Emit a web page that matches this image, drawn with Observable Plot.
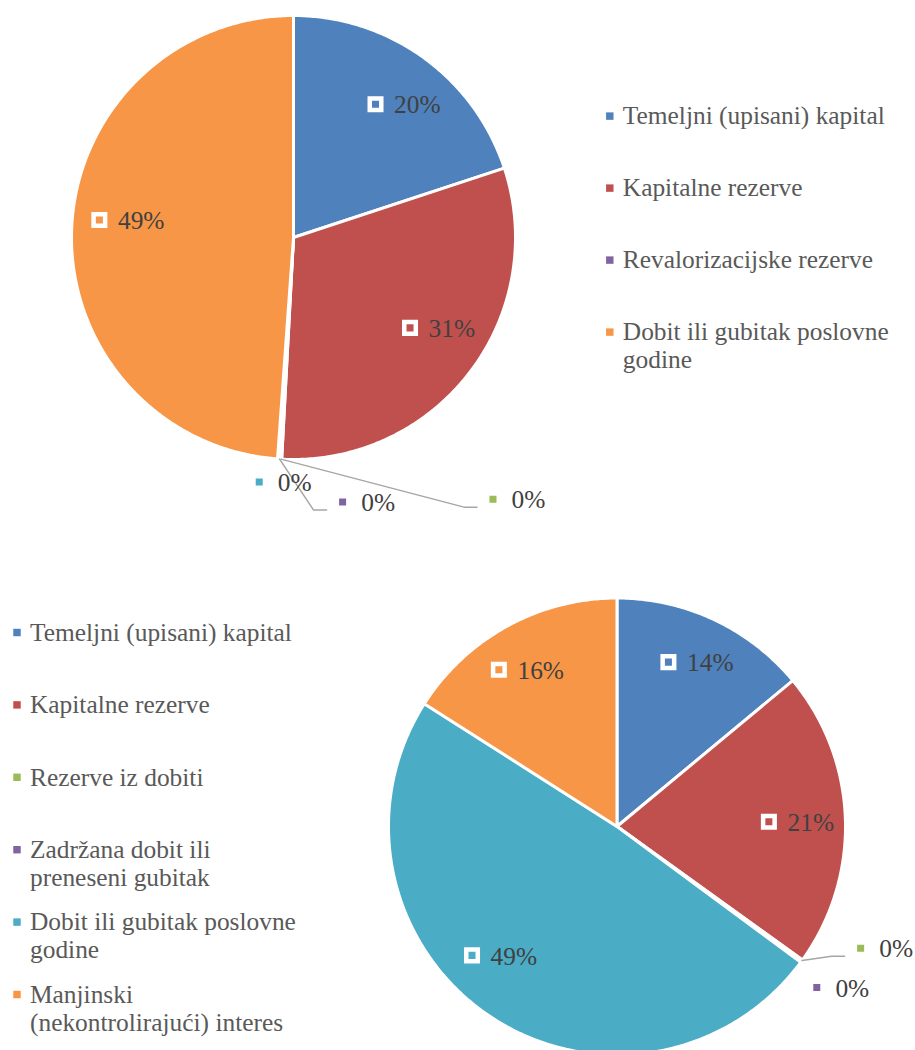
<!DOCTYPE html>
<html><head><meta charset="utf-8">
<script src="https://cdn.jsdelivr.net/npm/d3@7"></script>
<script src="https://cdn.jsdelivr.net/npm/@observablehq/plot@0.6"></script>
<style>body{margin:0;background:#fff}#chart svg{display:block}</style>
</head><body><div id="chart"></div>
<script>
// ---- data ----
const palette = ["#4F81BD", "#C0504D", "#9BBB59", "#8064A2", "#4BACC6", "#F79646"];
// top chart (legend hides the unnamed categories)
const topCategories = ["Temeljni (upisani) kapital", "Kapitalne rezerve", "", "Revalorizacijske rezerve", "", "Dobit ili gubitak poslovne godine"];
const topValues = [20, 31, 0.1, 0.1, 0.1, 49];
// bottom chart
const bottomCategories = ["Temeljni (upisani) kapital", "Kapitalne rezerve", "Rezerve iz dobiti", "Zadržana dobit ili preneseni gubitak", "Dobit ili gubitak poslovne godine", "Manjinski (nekontrolirajući) interes"];
const bottomValues = [14, 21, 0.1, 0.1, 49, 16];

// ---- layout ----
const FONT = "Liberation Serif";
const FS = 25.4;
const charts = [
  {cats: topCategories, vals: topValues, cx: 293, cy: 237, r: 222,
   legendX: 609.3, legendY: 115.6, legendStep: 72,
   inside: {0: [3.8, 0.78], 1: [-5.5, 0.77], 5: [4, 0.75]},
   outside: {2: [212, 40], 3: [63, 43], 4: [-19, 23]}},
  {cats: bottomCategories, vals: bottomValues, cx: 616.5, cy: 826, r: 228.5,
   legendX: 16.5, legendY: 632, legendStep: 72.4,
   inside: {0: [0.8, 0.80], 1: [0.5, 0.79], 4: [7.6, 0.76], 5: [-1, 0.79]},
   outside: {2: [58.6, -12.3], 3: [15.6, 25.7]}}
];

const ctx = document.createElement("canvas").getContext("2d");
function measure(t) { ctx.font = `${FS}px "${FONT}"`; return ctx.measureText(t).width; }
function wrap(t, maxW) {
  const words = t.split(" "); const lines = []; let cur = "";
  for (const w of words) {
    const test = cur ? cur + " " + w : w;
    if (cur && measure(test) > maxW) { lines.push(cur); cur = w; } else cur = test;
  }
  if (cur) lines.push(cur);
  return lines.join("\n");
}

const slicePts = [], legendDots = [], legendTexts = [], labelDots = [], labelTexts = [], leaders = [];
const pct = d3.format(".0%");
charts.forEach((ch, ci) => {
  const arcs = d3.pie().sort(null).value(d => d)(ch.vals);
  const total = d3.sum(ch.vals);
  const P = (ang, rad) => [ch.cx + rad * Math.sin(ang), ch.cy - rad * Math.cos(ang)];
  arcs.forEach((a, i) => {
    const id = ci + "-" + i;
    slicePts.push({id, c: i, x: ch.cx, y: ch.cy});
    const n = Math.max(2, Math.ceil((a.endAngle - a.startAngle) / 0.01));
    for (let k = 0; k <= n; k++) {
      const [x, y] = P(a.startAngle + (a.endAngle - a.startAngle) * k / n, ch.r);
      slicePts.push({id, c: i, x, y});
    }
    slicePts.push({id, c: i, x: ch.cx, y: ch.cy});
    const mid = (a.startAngle + a.endAngle) / 2;
    const text = pct(a.value / total);
    const tw = measure(text);
    let mx, my;
    if (ch.outside[i]) {
      const off = ch.outside[i];
      const [ox, oy] = P(mid, ch.r);
      mx = ox + off[0]; my = oy + off[1];
      if (Math.hypot(off[0], off[1]) > 45) {
        const ex = mx - 16, ey = my + 8;
        leaders.push({id, x: ox, y: oy}, {id, x: ex - 13, y: ey}, {id, x: ex, y: ey});
      }
    } else {
      const [dA, kf] = ch.inside[i] || [0, 0.78];
      const [px, py] = P(mid + dA * Math.PI / 180, kf * ch.r);
      mx = px - (10.6 + tw) / 2; my = py;
    }
    labelDots.push({x: mx, y: my, c: i});
    labelTexts.push({x: mx + 18.6, y: my + 1, text});
  });
  let j = 0;
  ch.cats.forEach((name, i) => {
    if (!name) return;
    const y = ch.legendY + j * ch.legendStep;
    legendDots.push({x: ch.legendX, y, c: i});
    legendTexts.push({x: ch.legendX + 13, y: y + 6.5 - 0.71 * FS, text: wrap(name, 268)});
    j++;
  });
});

const chart = Plot.plot({
  width: 915, height: 1050, margin: 0,
  style: {fontFamily: FONT, background: "#fff"},
  x: {domain: [0, 915], range: [0, 915], axis: null},
  y: {domain: [0, 1050], range: [0, 1050], axis: null},
  color: {type: "ordinal", domain: d3.range(6), range: palette},
  marks: [
    Plot.line(slicePts, {x: "x", y: "y", z: "id", fill: "c", stroke: "white", strokeWidth: 3, strokeLinejoin: "round"}),
    Plot.line(leaders, {x: "x", y: "y", z: "id", stroke: "#A6A6A6", strokeWidth: 1.5}),
    Plot.dot(labelDots, {x: "x", y: "y", fill: "c", symbol: "square", r: 6.5, stroke: "white", strokeWidth: 4.5}),
    Plot.text(labelTexts, {x: "x", y: "y", text: "text", textAnchor: "start", lineAnchor: "middle", fontSize: FS, fill: "#404040"}),
    Plot.dot(legendDots, {x: "x", y: "y", fill: "c", symbol: "square", r: 4.2}),
    Plot.text(legendTexts, {x: "x", y: "y", text: "text", textAnchor: "start", lineAnchor: "top", lineHeight: 1.1, fontSize: FS, fill: "#595959"})
  ]
});
document.getElementById("chart").appendChild(chart);
</script>
</body></html>
